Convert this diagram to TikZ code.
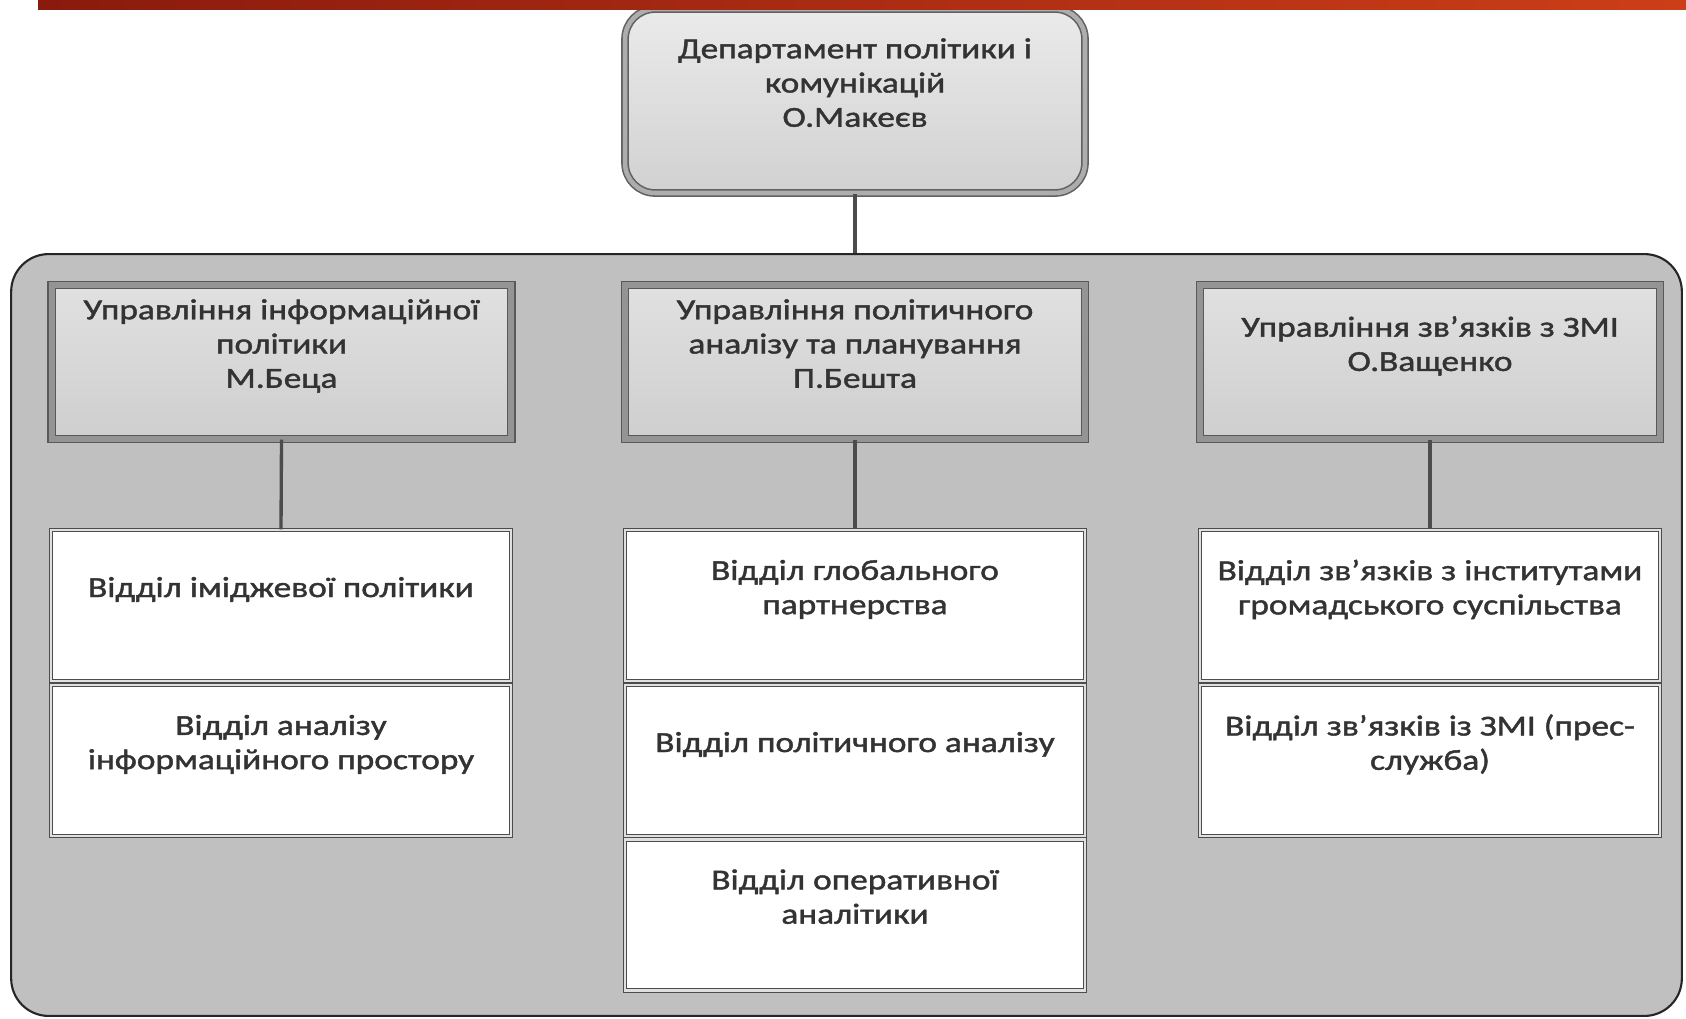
\documentclass[tikz,border=0pt]{standalone}
\usepackage{fontspec}
\setmainfont{Carlito}[FakeStretch=1.22,FakeBold=1.4]
\definecolor{barL}{HTML}{8A1A0E}
\definecolor{barR}{HTML}{CC3E18}
\definecolor{contfill}{HTML}{C0C0C0}
\definecolor{txt}{HTML}{333333}
\tikzset{
  px/.style={x=0.02cm,y=-0.02cm},
  basetxt/.style={align=center,text=txt,font=\fontsize{16.5}{19.5}\selectfont,text depth=21pt,inner sep=0pt},
  topbox/.style={basetxt,rounded corners=0.6cm,draw=black!62,line width=0.9pt,double=black!32,double distance=2.6pt,
    top color=black!8,bottom color=black!18,minimum width=9.2cm,minimum height=3.68cm},
  contbox/.style={rounded corners=0.75cm,draw=black!85,line width=1.2pt,fill=contfill,minimum width=33.42cm,minimum height=15.24cm,inner sep=0pt},
  headbox/.style={basetxt,draw=black!65,line width=0.8pt,double=black!42,double distance=3.4pt,
    top color=black!12,bottom color=black!19,minimum width=9.2cm,minimum height=3.08cm},
  childbox/.style={basetxt,draw=black!70,line width=0.7pt,double=black!12,double distance=1.3pt,
    fill=white,minimum width=9.2cm,minimum height=3.02cm},
  link/.style={draw=black!70,line width=1.9pt}
}
\begin{document}
\begin{tikzpicture}[px]
\useasboundingbox (0,0) rectangle (1686,1018);
\fill[white] (0,0) rectangle (1686,1018);
% container
\node[contbox] (cont) at (846.5,635) {};
% top
\node[topbox] (top) at (855,101) {Департамент політики і\\комунікацій\\О.Макеєв};
\draw[link] (top.south) -- (top.south |- cont.north);
% heads
\node[headbox] (h1) at (281.5,362) {Управління інформаційної\\політики\\М.Беца};
\node[headbox] (h2) at (855,362) {Управління політичного\\аналізу та планування\\П.Бешта};
\node[headbox] (h3) at (1430,362) {Управління зв'язків з ЗМІ\\О.Ващенко};
% children
\node[childbox] (c11) at (281,605.5) {Відділ іміджевої політики};
\node[childbox] (c12) at (281,760.5) {Відділ аналізу\\інформаційного простору};
\node[childbox] (c21) at (855,605.5) {Відділ глобального\\партнерства};
\node[childbox] (c22) at (855,760.5) {Відділ політичного аналізу};
\node[childbox] (c23) at (855,915) {Відділ оперативної\\аналітики};
\node[childbox] (c31) at (1430,605.5) {Відділ зв'язків з інститутами\\громадського суспільства};
\node[childbox] (c32) at (1430,760.5) {Відділ зв'язків із ЗМІ (прес-\\служба)};
% connectors
\draw[link] (h1.south) -- (c11.north);
\draw[link] (h2.south) -- (c21.north);
\draw[link] (h3.south) -- (c31.north);
% top bar
\shade[left color=barL,right color=barR] (38,0) rectangle (1686,9);
\end{tikzpicture}
\end{document}
